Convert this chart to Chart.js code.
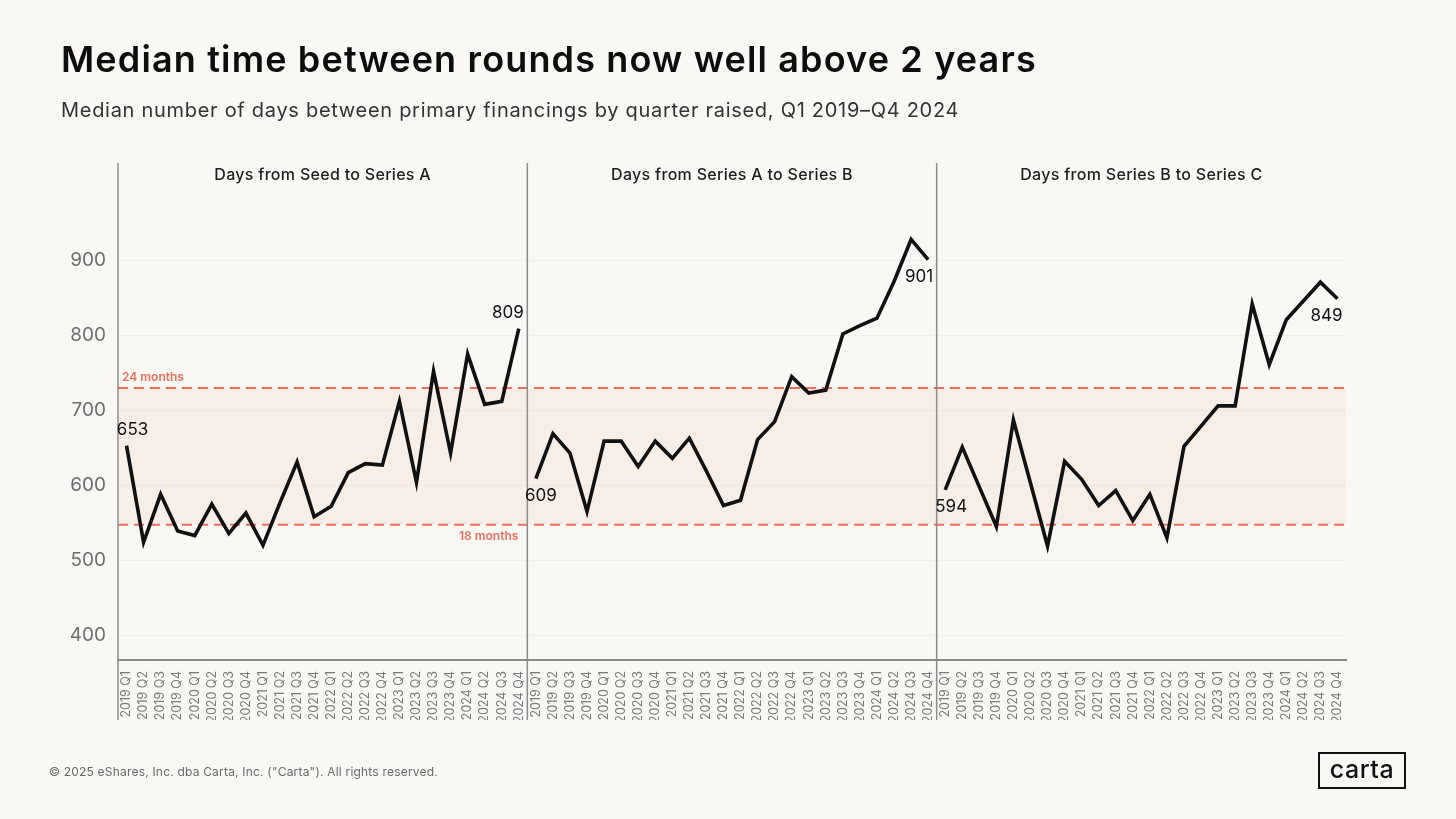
<!DOCTYPE html>
<html>
<head>
<meta charset="utf-8">
<script src="https://cdn.jsdelivr.net/npm/chart.js@4"></script>
<style>
  html, body { margin:0; padding:0; background:#f9f8f4; }
  body { width:1456px; height:819px; position:relative; overflow:hidden; font-family: Inter, "Noto Sans", sans-serif; }
  #wrap { position:absolute; left:0; top:0; width:1456px; height:819px; }
  #title { position:absolute; left:61px; top:37px; font-size:36px; font-weight:600; color:#0d0d0d; letter-spacing:1.15px; white-space:nowrap; }
  #subtitle { position:absolute; left:61px; top:98px; font-size:20px; font-weight:400; color:#333; letter-spacing:0.71px; white-space:nowrap; }
  #footer { position:absolute; left:49px; top:764px; font-size:12px; color:#6a6a6a; letter-spacing:0.2px; white-space:nowrap; }
  #logo { position:absolute; left:1318px; top:752px; width:88px; height:37px; border:2.5px solid #111; box-sizing:border-box; font-size:25px; font-weight:500; color:#111; text-align:center; line-height:31px; letter-spacing:0.5px; }
</style>
</head>
<body>
<div id="wrap"><canvas id="c" width="1456" height="819"></canvas></div>
<div id="title">Median time between rounds now well above 2 years</div>
<div id="subtitle">Median number of days between primary financings by quarter raised, Q1 2019–Q4 2024</div>
<div id="footer">© 2025 eShares, Inc. dba Carta, Inc. ("Carta"). All rights reserved.</div>
<div id="logo">carta</div>
<script>
const quarters = ["2019 Q1","2019 Q2","2019 Q3","2019 Q4","2020 Q1","2020 Q2","2020 Q3","2020 Q4",
  "2021 Q1","2021 Q2","2021 Q3","2021 Q4","2022 Q1","2022 Q2","2022 Q3","2022 Q4",
  "2023 Q1","2023 Q2","2023 Q3","2023 Q4","2024 Q1","2024 Q2","2024 Q3","2024 Q4"];
const panelTitles = ["Days from Seed to Series A", "Days from Series A to Series B", "Days from Series B to Series C"];
const seedToA = [653,524,588,539,533,575,536,563,520,577,631,558,572,617,629,627,712,604,752,643,775,708,712,809];
const aToB    = [609,669,643,565,659,659,625,659,636,663,619,573,580,661,685,745,723,727,802,813,823,872,928,901];
const bToC    = [594,651,598,545,687,603,519,632,608,573,593,553,588,530,652,679,706,706,842,761,821,846,871,849];
const yTicks = [400,500,600,700,800,900];
const thresholds = [{ value: 730, label: "24 months" }, { value: 547.5, label: "18 months" }];

const series = [seedToA, aToB, bToC];
const n = quarters.length;
const labels = [].concat(quarters, quarters, quarters);
const datasets = series.map((vals, i) => ({
  data: labels.map((_, j) => (j >= i*n && j < (i+1)*n) ? vals[j - i*n] : null),
  borderColor: '#111',
  borderWidth: 3.6,
  pointRadius: 0,
  tension: 0,
  spanGaps: false,
  borderJoinStyle: 'miter'
}));

const endLabelPlacement = [
  [{pos:'above', dx:6}, {pos:'above', dx:-11}],
  [{pos:'below', dx:5}, {pos:'below', dx:-9}],
  [{pos:'below', dx:6}, {pos:'below', dx:-11}]
];

const decor = {
  id: 'decor',
  beforeDatasetsDraw(chart) {
    const {ctx, chartArea: a, scales: {y}} = chart;
    const yTop = y.getPixelForValue(thresholds[0].value);
    const yBot = y.getPixelForValue(thresholds[1].value);
    ctx.save();
    ctx.fillStyle = 'rgba(246,140,110,0.085)';
    ctx.fillRect(a.left, yTop, a.right - a.left, yBot - yTop);
    ctx.strokeStyle = '#ef6e5b';
    ctx.lineWidth = 2;
    ctx.setLineDash([10, 6]);
    [yTop, yBot].forEach(py => {
      ctx.beginPath(); ctx.moveTo(a.left, py); ctx.lineTo(a.right, py); ctx.stroke();
    });
    ctx.setLineDash([]);
    ctx.fillStyle = '#ef6e5b';
    ctx.font = '600 12px Inter, sans-serif';
    ctx.textBaseline = 'middle';
    ctx.textAlign = 'left';
    ctx.fillText(thresholds[0].label, a.left + 4, yTop - 10);
    const x = chart.scales.x;
    const b1 = (x.getPixelForValue(n-1) + x.getPixelForValue(n)) / 2;
    ctx.textAlign = 'right';
    ctx.fillText(thresholds[1].label, b1 - 9, yBot + 12);
    ctx.restore();
  },
  afterDraw(chart) {
    const {ctx, chartArea: a, scales: {x, y}} = chart;
    ctx.save();
    const bounds = [a.left];
    for (let i = 1; i < series.length; i++) {
      bounds.push((x.getPixelForValue(i*n-1) + x.getPixelForValue(i*n)) / 2);
    }
    ctx.strokeStyle = '#8c8c8c';
    ctx.lineWidth = 1.5;
    bounds.forEach(bx => {
      ctx.beginPath(); ctx.moveTo(bx, a.top); ctx.lineTo(bx, 720); ctx.stroke();
    });
    const edges = bounds.concat([a.right]);
    ctx.fillStyle = '#1e1e1e';
    ctx.font = '500 16px Inter, sans-serif';
    ctx.letterSpacing = '0.3px';
    ctx.textAlign = 'center';
    ctx.textBaseline = 'middle';
    panelTitles.forEach((t, i) => {
      ctx.fillText(t, (edges[i] + edges[i+1]) / 2, a.top + 12);
    });
    ctx.letterSpacing = '0px';
    ctx.fillStyle = '#111';
    ctx.font = '400 17px Inter, sans-serif';
    series.forEach((vals, i) => {
      [0, vals.length - 1].forEach((k, m) => {
        const pl = endLabelPlacement[i][m];
        const px = x.getPixelForValue(i*n + k);
        const py = y.getPixelForValue(vals[k]);
        ctx.fillText(String(vals[k]), px + pl.dx, py + (pl.pos === 'above' ? -16 : 17));
      });
    });
    ctx.restore();
  }
};

new Chart(document.getElementById('c'), {
  type: 'line',
  data: { labels, datasets },
  plugins: [decor],
  options: {
    responsive: false,
    animation: false,
    layout: { padding: { left: 0, top: 163, right: 110, bottom: 99 } },
    plugins: { legend: { display: false }, tooltip: { enabled: false } },
    scales: {
      x: {
        type: 'category',
        offset: true,
        grid: { display: false },
        border: { display: true, color: '#8a8a8a', width: 2 },
        ticks: { autoSkip: false, minRotation: 90, maxRotation: 90, padding: 3,
                 color: '#7a7a7a', font: { size: 12.5, family: 'Inter, sans-serif' } },
        afterFit(s) { s.height = 60; }
      },
      y: {
        min: 367, max: 1030,
        afterBuildTicks(s) { s.ticks = yTicks.map(v => ({ value: v })); },
        grid: { color: 'rgba(0,0,0,0.035)', drawTicks: false },
        border: { display: false },
        ticks: { padding: 12, color: '#6e6e6e', font: { size: 19, family: 'Inter, sans-serif' } },
        afterFit(s) { s.width = 118; }
      }
    }
  }
});
</script>
</body>
</html>
